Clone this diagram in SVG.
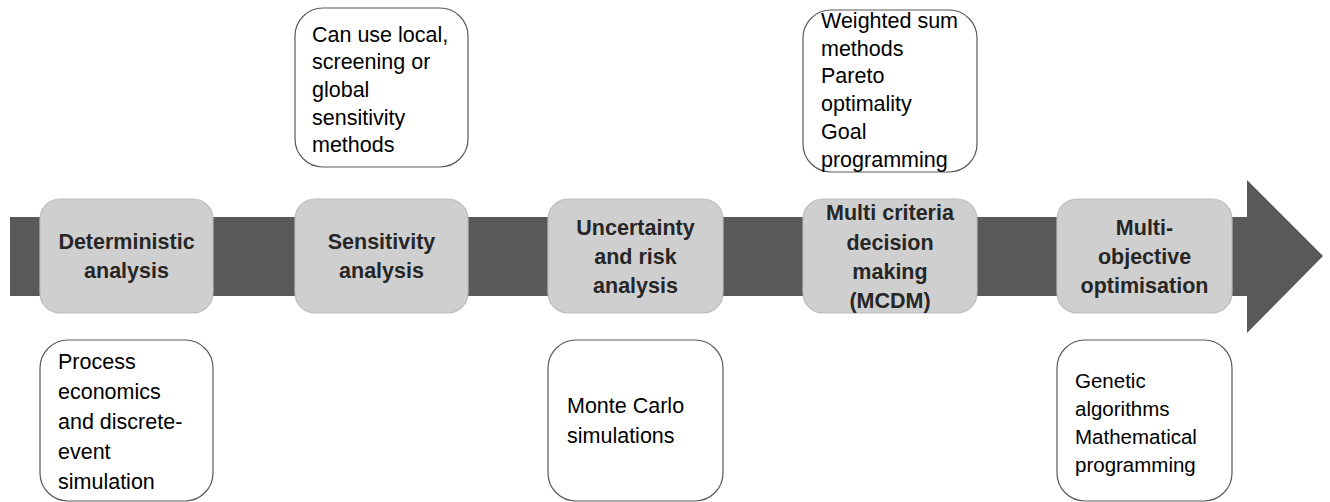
<svg xmlns="http://www.w3.org/2000/svg" width="1330" height="502" viewBox="0 0 1330 502">
<style>
.stage{fill:#d0cfcf;stroke:#bcbcbc;stroke-width:1.2}
.note{fill:#ffffff;stroke:#595959;stroke-width:1.2}
.bt{font-family:"Liberation Sans",Arial,sans-serif;font-weight:bold;font-size:21.5px;fill:#262626;text-anchor:middle}
.nt{font-family:"Liberation Sans",Arial,sans-serif;font-size:21.5px;fill:#000000}
</style>
<rect width="1330" height="502" fill="#ffffff"/>
<g id="connectors">
<path d="M10,217 H1247 V180 L1323,256 L1247,333 V296 H10 Z" fill="#595959"/>
</g>
<g id="stage-deterministic">
<rect class="stage" x="40" y="199" width="173" height="114" rx="20"/>
<text class="bt" x="126.5" y="249">Deterministic</text>
<text class="bt" x="126.5" y="278">analysis</text>
</g>
<g id="stage-sensitivity">
<rect class="stage" x="295" y="199" width="173" height="114" rx="20"/>
<text class="bt" x="381.5" y="249">Sensitivity</text>
<text class="bt" x="381.5" y="278">analysis</text>
</g>
<g id="stage-uncertainty">
<rect class="stage" x="548" y="199" width="175" height="114" rx="20"/>
<text class="bt" x="635.5" y="235">Uncertainty</text>
<text class="bt" x="635.5" y="264">and risk</text>
<text class="bt" x="635.5" y="293">analysis</text>
</g>
<g id="stage-mcdm">
<rect class="stage" x="803" y="199" width="174" height="114" rx="20"/>
<text class="bt" x="890" y="220">Multi criteria</text>
<text class="bt" x="890" y="250">decision</text>
<text class="bt" x="890" y="279">making</text>
<text class="bt" x="890" y="308">(MCDM)</text>
</g>
<g id="stage-multiobjective">
<rect class="stage" x="1057" y="199" width="175" height="114" rx="20"/>
<text class="bt" x="1144.5" y="235">Multi-</text>
<text class="bt" x="1144.5" y="264">objective</text>
<text class="bt" x="1144.5" y="293">optimisation</text>
</g>
<g id="note-sensitivity">
<rect class="note" x="295" y="8" width="173" height="159" rx="28"/>
<text class="nt" x="312" y="42">Can use local,</text>
<text class="nt" x="312" y="69">screening or</text>
<text class="nt" x="312" y="97">global</text>
<text class="nt" x="312" y="125">sensitivity</text>
<text class="nt" x="312" y="152">methods</text>
</g>
<g id="note-mcdm">
<rect class="note" x="803" y="10" width="174" height="162" rx="28"/>
<text class="nt" x="821" y="28">Weighted sum</text>
<text class="nt" x="821" y="56">methods</text>
<text class="nt" x="821" y="83">Pareto</text>
<text class="nt" x="821" y="111">optimality</text>
<text class="nt" x="821" y="139">Goal</text>
<text class="nt" x="821" y="167">programming</text>
</g>
<g id="note-deterministic">
<rect class="note" x="40" y="340" width="173" height="161" rx="28"/>
<text class="nt" x="58" y="369">Process</text>
<text class="nt" x="58" y="399">economics</text>
<text class="nt" x="58" y="429">and discrete-</text>
<text class="nt" x="58" y="459">event</text>
<text class="nt" x="58" y="489">simulation</text>
</g>
<g id="note-uncertainty">
<rect class="note" x="548" y="340" width="175" height="161" rx="28"/>
<text class="nt" x="567" y="413">Monte Carlo</text>
<text class="nt" x="567" y="443">simulations</text>
</g>
<g id="note-multiobjective">
<rect class="note" x="1057" y="340" width="175" height="161" rx="28"/>
<text class="nt" x="1075" y="388" style="font-size:20.5px">Genetic</text>
<text class="nt" x="1075" y="416" style="font-size:20.5px">algorithms</text>
<text class="nt" x="1075" y="444" style="font-size:20.5px">Mathematical</text>
<text class="nt" x="1075" y="472" style="font-size:20.5px">programming</text>
</g>
</svg>
